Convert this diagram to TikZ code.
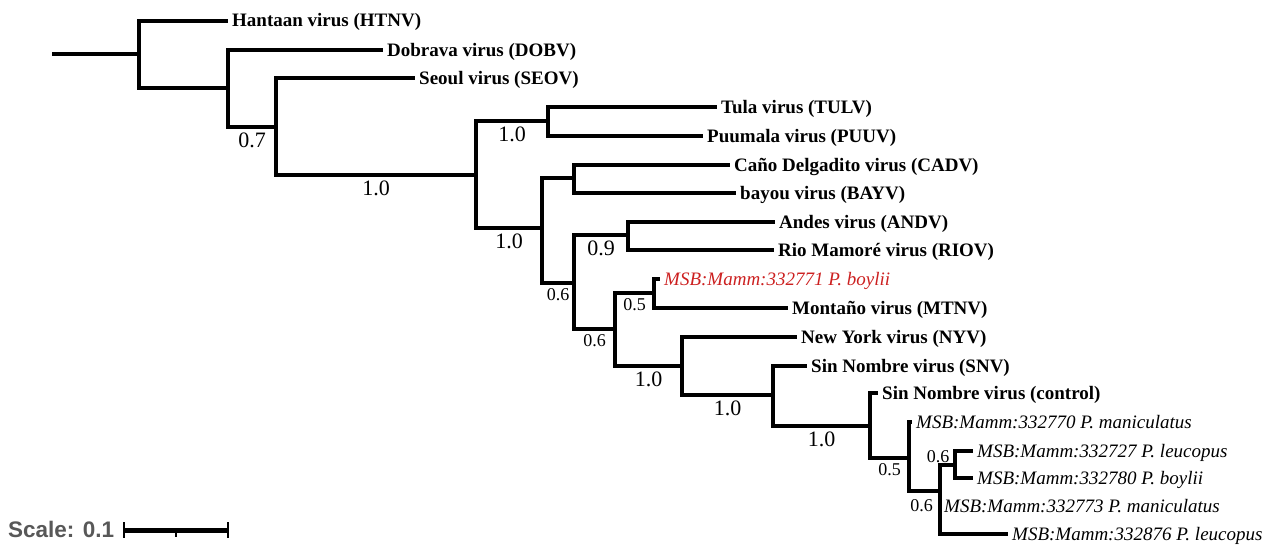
\documentclass[tikz,border=0pt]{standalone}
\usepackage{fontspec}
\setmainfont{Liberation Serif}
\newfontfamily\barfont{Liberation Sans}
\usepackage{tikz}
\definecolor{msbred}{RGB}{204,32,32}
\definecolor{bargray}{RGB}{88,88,88}
\tikzstyle{leaf}=[anchor=west, inner xsep=4pt, inner ysep=0pt, text height=14pt, text depth=2pt, font=\fontsize{19}{22}\selectfont\bfseries]
\tikzstyle{msb}=[leaf, font=\fontsize{19}{22}\selectfont\itshape]
\tikzstyle{br}=[draw, line width=3.2pt, line join=miter, to path={|- (\tikztotarget) \tikztonodes}]
\tikzstyle{boot}=[pos=0.75, yshift=-13pt, inner sep=0pt, text depth=0pt, font=\fontsize{22}{24}\selectfont]
\tikzstyle{bootsm}=[boot, yshift=1pt, font=\fontsize{18}{20}\selectfont]

\begin{document}
\begin{tikzpicture}[x=1pt, y=-1pt]
            \useasboundingbox (0, 0) rectangle (1274, 546);
            % leaves
            \node[leaf] (htnv) at (228, 21) {Hantaan virus (HTNV)};
            \node[leaf] (dobv) at (383, 50) {Dobrava virus (DOBV)};
            \node[leaf] (seov) at (415, 78) {Seoul virus (SEOV)};
            \node[leaf] (tulv) at (717, 107) {Tula virus (TULV)};
            \node[leaf] (puuv) at (703, 136) {Puumala virus (PUUV)};
            \node[leaf] (cadv) at (730, 165) {Caño Delgadito virus (CADV)};
            \node[leaf] (bayv) at (736, 193) {bayou virus (BAYV)};
            \node[leaf] (andv) at (775, 222) {Andes virus (ANDV)};
            \node[leaf] (riov) at (774, 250) {Rio Mamoré virus (RIOV)};
            \node[msb, text=msbred] (pb771) at (660, 279) {MSB:Mamm:332771 P. boylii};
            \node[leaf] (mtnv) at (788, 308) {Montaño virus (MTNV)};
            \node[leaf] (nyv) at (797, 337) {New York virus (NYV)};
            \node[leaf] (snv) at (807, 366) {Sin Nombre virus (SNV)};
            \node[leaf] (snvc) at (878, 393) {Sin Nombre virus (control)};
            \node[msb] (pm770) at (912, 422) {MSB:Mamm:332770 P. maniculatus};
            \node[msb] (pl727) at (973, 451) {MSB:Mamm:332727 P. leucopus};
            \node[msb] (pb780) at (973, 478) {MSB:Mamm:332780 P. boylii};
            \node[msb] (pm773) at (940, 506) {MSB:Mamm:332773 P. maniculatus};
            \node[msb] (pl876) at (1008, 534) {MSB:Mamm:332876 P. leucopus};
            % inner nodes
            \coordinate (Q) at (955, 465)
                edge[br] (pl727.west)
                edge[br] (pb780.west)
            ;
            \coordinate (P) at (940, 491)
                edge[br] node[bootsm, xshift=-9.5pt, yshift=20pt] {0.6} (Q)
                edge[br] (pm773.west)
                edge[br] (pl876.west)
            ;
            \coordinate (O) at (909, 458)
                edge[br] (pm770.west)
                edge[br] node[bootsm, xshift=-3pt, yshift=-3pt] {0.6} (P)
            ;
            \coordinate (N) at (870, 426)
                edge[br] (snvc.west)
                edge[br] node[bootsm] {0.5} (O)
            ;
            \coordinate (M) at (773, 395)
                edge[br] (snv.west)
                edge[br] node[boot] {1.0} (N)
            ;
            \coordinate (L) at (682, 366)
                edge[br] (nyv.west)
                edge[br] node[boot] {1.0} (M)
            ;
            \coordinate (K) at (654, 293)
                edge[br] (pb771.west)
                edge[br] (mtnv.west)
            ;
            \coordinate (J) at (615, 329)
                edge[br] node[bootsm] {0.5} (K)
                edge[br] node[boot] {1.0} (L)
            ;
            \coordinate (I) at (628, 235)
                edge[br] (andv.west)
                edge[br] (riov.west)
            ;
            \coordinate (H) at (574, 283)
                edge[br] node[boot] {0.9} (I)
                edge[br] node[bootsm] {0.6} (J)
            ;
            \coordinate (G) at (574, 178)
                edge[br] (cadv.west)
                edge[br] (bayv.west)
            ;
            \coordinate (F) at (542, 228)
                edge[br] (G)
                edge[br] node[bootsm] {0.6} (H)
            ;
            \coordinate (E) at (548, 121)
                edge[br] (tulv.west)
                edge[br] (puuv.west)
            ;
            \coordinate (D) at (476, 175)
                edge[br] node[boot] {1.0} (E)
                edge[br] node[boot] {1.0} (F)
            ;
            \coordinate (C) at (276, 127)
                edge[br] (seov.west)
                edge[br] node[boot] {1.0} (D)
            ;
            \coordinate (B) at (228, 88)
                edge[br] (dobv.west)
                edge[br] node[boot] {0.7} (C)
            ;
            \coordinate (A) at (139, 54)
                edge[br] (htnv.west)
                edge[br] (B)
            ;
            \coordinate (R) at (52, 54)
                edge[br] (A)
            ;
            % scale bar
            \node[anchor=west, inner sep=0pt, text=bargray, font=\barfont\fontsize{22.5}{24}\selectfont\bfseries] (scale) at (8, 529) {Scale: 0.1};
            \coordinate (s0) at (124, 530);
            \coordinate (s1) at (228, 530);
            \coordinate (smid) at (176, 530);
            \draw[line width=5pt] (s0) -- (s1);
            \draw[line width=1.5pt] ([yshift=8pt]s0) -- ([yshift=-8pt]s0);
            \draw[line width=1.5pt] ([yshift=8pt]s1) -- ([yshift=-8pt]s1);
            \draw[line width=1.5pt] (smid) -- ([yshift=-7pt]smid);
        \end{tikzpicture}
\end{document}
